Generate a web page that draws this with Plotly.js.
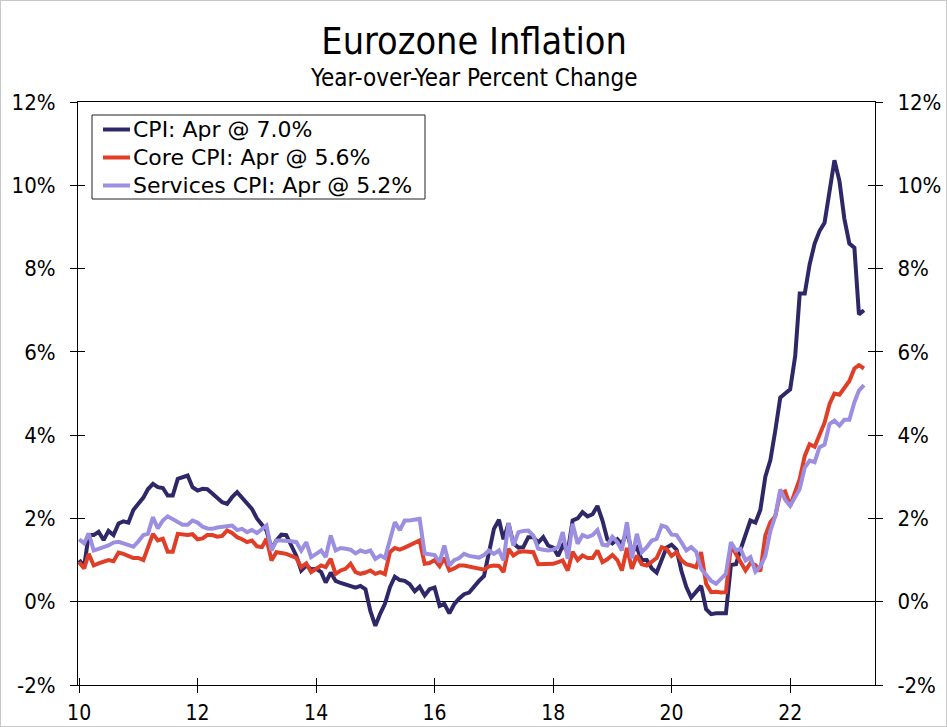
<!DOCTYPE html>
<html><head><meta charset="utf-8">
<script src="https://cdn.plot.ly/plotly-3.0.1.min.js"></script>
<style>
html,body{margin:0;padding:0;background:#fff}
#wrap{position:relative;width:947px;height:727px}
#chart{width:947px;height:727px}
#frame{position:absolute;left:0;top:0;width:947px;height:727px;box-sizing:border-box;border:1px solid #c8c8c8;pointer-events:none}
</style></head><body>
<div id="wrap"><div id="chart"></div><div id="frame"></div></div>
<script>
// Monthly data, Jan 2010 – Apr 2023 (year-over-year % change)
const startYear = 2010;

const cpi = [
  1.0, 0.85, 1.6, 1.6, 1.68, 1.48, 1.7, 1.6, 1.88, 1.93, 1.9, 2.2,
  2.35, 2.5, 2.7, 2.83, 2.75, 2.73, 2.55, 2.55, 2.95, 3.0, 3.03, 2.75,
  2.67, 2.71, 2.7, 2.6, 2.51, 2.39, 2.35, 2.51, 2.63, 2.5, 2.35, 2.23,
  2.0, 1.83, 1.71, 1.27, 1.47, 1.61, 1.6, 1.35, 1.1, 0.75, 0.87, 0.78,
  0.79, 0.71, 0.46, 0.7, 0.5, 0.45, 0.42, 0.38, 0.34, 0.38, 0.3, -0.22,
  -0.58, -0.28, -0.05, 0.35, 0.6, 0.52, 0.5, 0.42, 0.25, 0.36, 0.15, 0.3,
  0.34, -0.1, -0.05, -0.28, -0.06, 0.08, 0.18, 0.22, 0.38, 0.5, 0.62, 1.13,
  1.75, 1.97, 1.5, 1.88, 1.4, 1.3, 1.31, 1.55, 1.55, 1.42, 1.55, 1.35,
  1.3, 1.1, 1.35, 1.2, 1.95, 2.0, 2.15, 2.05, 2.1, 2.3, 1.95, 1.5,
  1.4, 1.5, 1.38, 1.7, 1.2, 1.3, 1.0, 1.0, 0.8, 0.7, 1.0, 1.3,
  1.37, 1.25, 0.75, 0.35, 0.1, 0.25, 0.38, -0.18, -0.3, -0.28, -0.28, -0.28,
  0.88, 0.9, 1.25, 1.6, 1.95, 1.9, 2.2, 3.0, 3.4, 4.1, 4.9, 5.0,
  5.1, 5.9, 7.4, 7.4, 8.1, 8.6, 8.9, 9.1, 9.9, 10.6, 10.1, 9.2,
  8.6, 8.5, 6.9, 7.0
];

const coreCpi = [
  0.95, 0.8, 1.15, 0.87, 0.92, 0.97, 1.0, 0.97, 1.18, 1.15, 1.1, 1.05,
  1.05, 1.0, 1.3, 1.63, 1.47, 1.51, 1.2, 1.2, 1.63, 1.62, 1.6, 1.62,
  1.5, 1.52, 1.6, 1.6, 1.56, 1.58, 1.71, 1.65, 1.55, 1.5, 1.43, 1.47,
  1.33, 1.31, 1.51, 0.99, 1.19, 1.17, 1.15, 1.1, 1.05, 0.83, 0.92, 0.71,
  0.8, 0.87, 0.83, 1.03, 0.67, 0.75, 0.79, 0.91, 0.71, 0.67, 0.7, 0.75,
  0.67, 0.71, 0.66, 1.19, 1.29, 1.25, 1.3, 1.35, 1.4, 1.47, 0.91, 0.93,
  1.0, 0.85, 1.05, 0.75, 0.8, 0.87, 0.87, 0.84, 0.81, 0.78, 0.77, 0.85,
  0.87, 0.86, 0.71, 1.27, 1.11, 1.19, 1.21, 1.2, 1.19, 0.9, 0.9, 0.91,
  0.91, 0.95, 0.99, 0.75, 1.2, 1.0, 1.11, 1.05, 1.05, 1.23, 0.95, 1.02,
  1.12, 1.0, 0.75, 1.29, 0.79, 1.11, 0.9, 0.87, 0.97, 1.05, 1.31, 1.27,
  1.1, 1.19, 1.0, 0.9, 0.87, 0.83, 1.19, 0.43, 0.23, 0.24, 0.22, 0.23,
  1.35, 1.13, 0.93, 0.75, 0.93, 0.88, 0.73, 1.59, 1.91, 2.05, 2.6, 2.65,
  2.3, 2.65, 2.95, 3.5, 3.78, 3.72, 3.98, 4.3, 4.75, 5.0, 4.97, 5.15,
  5.3, 5.6, 5.68, 5.6
];

const servicesCpi = [
  1.5, 1.4, 1.64, 1.23, 1.27, 1.3, 1.35, 1.42, 1.44, 1.4, 1.36, 1.32,
  1.45, 1.6, 1.63, 2.03, 1.76, 1.95, 2.05, 1.98, 1.92, 1.85, 1.85, 1.95,
  1.9, 1.8, 1.76, 1.75, 1.78, 1.8, 1.8, 1.83, 1.72, 1.75, 1.67, 1.72,
  1.65, 1.75, 1.83, 1.23, 1.47, 1.47, 1.47, 1.45, 1.43, 1.23, 1.43, 1.07,
  1.15, 1.23, 1.07, 1.59, 1.23, 1.29, 1.27, 1.25, 1.16, 1.23, 1.19, 1.23,
  1.03, 1.11, 1.05, 1.47, 1.91, 1.72, 1.95, 1.95, 1.96, 1.99, 1.16, 1.15,
  1.12, 0.95, 1.35, 0.87, 1.0, 1.05, 1.15, 1.1, 1.07, 1.06, 1.12, 1.23,
  1.15, 1.23, 0.99, 1.89, 1.35, 1.67, 1.7, 1.71, 1.59, 1.27, 1.25, 1.23,
  1.25, 1.31, 1.67, 1.03, 1.87, 1.39, 1.6, 1.55, 1.6, 1.72, 1.37, 1.35,
  1.56, 1.43, 1.23, 1.91, 1.04, 1.63, 1.19, 1.31, 1.47, 1.51, 1.83, 1.79,
  1.61, 1.6, 1.43, 1.23, 1.31, 1.2, 0.79, 0.65, 0.5, 0.43, 0.55, 0.67,
  1.43, 1.23, 1.27, 0.99, 1.07, 0.72, 0.85, 1.1, 1.7, 2.05, 2.7, 2.45,
  2.3, 2.5, 2.71, 3.22, 3.39, 3.35, 3.71, 3.77, 4.27, 4.35, 4.23, 4.37,
  4.37, 4.79, 5.07, 5.2
];

const seriesNames = ['CPI: Apr @ 7.0%', 'Core CPI: Apr @ 5.6%', 'Services CPI: Apr @ 5.2%'];
const seriesColors = ['#2f2868', '#e03e27', '#9c8ee0'];

const xTickVals = ['2010-01-01','2012-01-01','2014-01-01','2016-01-01','2018-01-01','2020-01-01','2022-01-01'];
const xTickText = ['10','12','14','16','18','20','22'];
const yTickVals = [-2, 0, 2, 4, 6, 8, 10, 12];
const yTickText = ['-2%','0%','2%','4%','6%','8%','10%','12%'];

const months = cpi.map((_, i) => {
  const y = startYear + Math.floor(i / 12);
  const m = (i % 12) + 1;
  return y + '-' + String(m).padStart(2, '0') + '-01';
});

const xRange = ['2009-12-25', '2023-06-08'];
const yRange = [-2, 12];

// plot-area pixel geometry helpers (for legend box placement)
const PL = 78, PW = 797, PB = 685, PH = 583;
const px = v => (v - PL) / PW;
const py = v => (PB - v) / PH;

const condFont = '"DejaVu Sans Condensed", "DejaVu Sans", sans-serif';
const tickFont = {family: condFont, size: 22, color: '#000'};

const mainTraces = [cpi, coreCpi, servicesCpi].map((vals, i) => ({
  type: 'scatter', mode: 'lines', x: months, y: vals, name: seriesNames[i],
  line: {color: seriesColors[i], width: 4},
  hoverinfo: 'x+y'
}));

const helper = (xa, ya) => ({type: 'scatter', mode: 'lines', x: [], y: [], xaxis: xa, yaxis: ya, showlegend: false, hoverinfo: 'skip'});

const data = mainTraces.concat([helper('x2','y'), helper('x','y2'), helper('x','y3'), helper('x','y4')]);

// legend drawn as a boxed key
const legendRows = [129.5, 157.5, 185.5];
const shapes = [{type: 'rect', xref: 'paper', yref: 'paper', x0: px(92), x1: px(425), y0: py(199), y1: py(115),
                 line: {color: '#222', width: 1}, fillcolor: '#fff', layer: 'above'}];
const annotations = [{text: 'Year-over-Year Percent Change', xref: 'paper', yref: 'paper',
                 x: 0.497, y: py(77.5), xanchor: 'center', yanchor: 'middle', showarrow: false,
                 font: {family: condFont, size: 24, color: '#000'}}];
seriesNames.forEach((nm, i) => {
  shapes.push({type: 'line', xref: 'paper', yref: 'paper', x0: px(103), x1: px(130), y0: py(legendRows[i]), y1: py(legendRows[i]),
               line: {color: seriesColors[i], width: 4}, layer: 'above'});
  annotations.push({text: nm, xref: 'paper', yref: 'paper', x: px(131), y: py(legendRows[i]), xanchor: 'left', yanchor: 'middle',
                    showarrow: false, font: {family: '"DejaVu Sans", sans-serif', size: 22, color: '#000'}});
});

const baseAxis = {showgrid: false, zeroline: false, tickcolor: '#000', tickwidth: 1, ticklen: 7, fixedrange: true};

const layout = {
  width: 947, height: 727,
  margin: {l: PL, r: 947 - PL - PW, t: PB - PH, b: 727 - PB},
  paper_bgcolor: '#fff', plot_bgcolor: '#fff',
  title: {text: 'Eurozone Inflation', font: {family: condFont, size: 37.5, color: '#000'},
          xref: 'paper', x: 0.497, xanchor: 'center', yref: 'container', y: 1 - 41/727, yanchor: 'middle'},
  annotations: annotations,
  shapes: shapes,
  showlegend: false,
  xaxis: Object.assign({}, baseAxis, {type: 'date', range: xRange, tickmode: 'array', tickvals: xTickVals, ticktext: xTickText,
          ticks: 'outside', showline: true, linecolor: '#000', linewidth: 1, mirror: true,
          tickfont: {family: condFont, size: 21, color: '#000'}, ticklabelstandoff: 2}),
  xaxis2: Object.assign({}, baseAxis, {type: 'date', overlaying: 'x', anchor: 'y', side: 'bottom', range: xRange,
          tickmode: 'array', tickvals: xTickVals, ticks: 'inside', showticklabels: false, showline: false}),
  yaxis: Object.assign({}, baseAxis, {range: yRange, tickmode: 'array', tickvals: yTickVals, ticktext: yTickText,
          ticks: 'outside', showline: true, linecolor: '#000', linewidth: 1, zeroline: true, zerolinecolor: '#000', zerolinewidth: 1,
          tickfont: tickFont, ticklabelstandoff: 10}),
  yaxis2: Object.assign({}, baseAxis, {range: yRange, overlaying: 'y', anchor: 'x', side: 'right', tickmode: 'array',
          tickvals: yTickVals, ticktext: yTickText, ticks: 'outside', showline: true, linecolor: '#000', linewidth: 1,
          tickfont: tickFont, ticklabelstandoff: 10}),
  yaxis3: Object.assign({}, baseAxis, {range: yRange, overlaying: 'y', anchor: 'x', side: 'left', tickmode: 'array',
          tickvals: yTickVals, ticks: 'inside', showticklabels: false, showline: false}),
  yaxis4: Object.assign({}, baseAxis, {range: yRange, overlaying: 'y', anchor: 'x', side: 'right', tickmode: 'array',
          tickvals: yTickVals, ticks: 'inside', showticklabels: false, showline: false})
};

Plotly.newPlot('chart', data, layout, {displayModeBar: false, staticPlot: true});
</script>
</body></html>
